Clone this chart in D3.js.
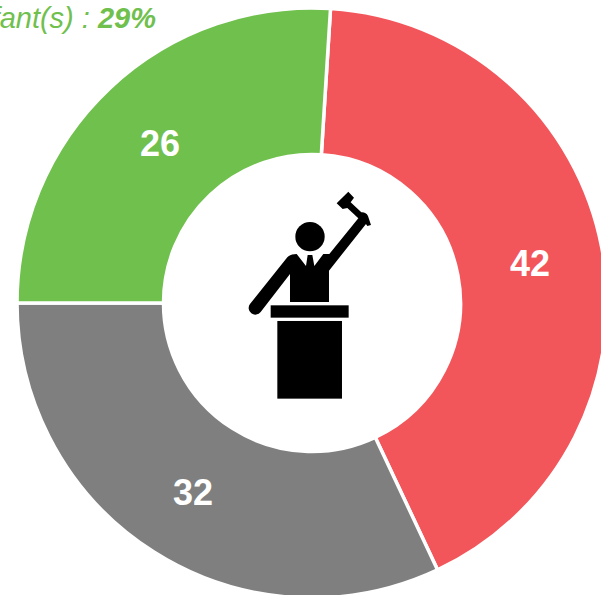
<!DOCTYPE html>
<html><head><meta charset="utf-8">
<style>html,body{margin:0;padding:0;background:#fff;overflow:hidden}svg{display:block}</style>
<script src="https://cdn.jsdelivr.net/npm/d3@7/dist/d3.min.js"></script></head>
<body><div id="c"></div>
<script>
const categories=["Contre","Abstention","Favorable"];
const values=[42,32,26];
const colors=["#f2565b","#7f7f7f","#70c04e"];
const noteLabel="Enfant(s) : ";
const notePct="29%";
const W=601,H=595,cx=312,cy=303,R=295,r0=148.5;
const svg=d3.select("#c").append("svg").attr("width",W).attr("height",H).style("font-family","'Liberation Sans',Arial,sans-serif");
const pie=d3.pie().sort(null).value(d=>d).startAngle(3.6*Math.PI/180).endAngle(363.6*Math.PI/180);
const arc=d3.arc().innerRadius(r0).outerRadius(R);
const g=svg.append("g").attr("transform",`translate(${cx},${cy})`);
const arcs=pie(values);
g.selectAll("path").data(arcs).join("path").attr("d",arc).attr("fill",(d,i)=>colors[i]).attr("stroke","#fff").attr("stroke-width",3.5);
const lab=d3.arc().innerRadius(222).outerRadius(222);
g.selectAll("text").data(arcs).join("text").attr("transform",d=>`translate(${lab.centroid(d)})`)
 .attr("text-anchor","middle").attr("dy","0.4em").attr("fill","#fff").attr("font-weight","bold").attr("font-size",36).text(d=>d.value);
const t=svg.append("text").attr("x",156).attr("y",28).attr("text-anchor","end").attr("fill","#70c04e").attr("font-style","italic").attr("font-size",29);
t.append("tspan").text(noteLabel);
t.append("tspan").attr("font-weight","bold").text(notePct);
const ic=svg.append("g").attr("transform","translate(230,180) scale(0.3333)").attr("fill","#000");
ic.append("circle").attr("cx",240).attr("cy",170).attr("r",44);
ic.append("rect").attr("x",122).attr("y",376).attr("width",234).attr("height",37);
ic.append("rect").attr("x",142).attr("y",423).attr("width",194).attr("height",233);
ic.append("path").attr("d","M180 366V282L92 396A18 18 0 0 1 60 372L172 232Q180 222 200 222L228 258L233 225H247L253 258L280 222H298L385 115L352 84L338 87L320 70L355 35L372 53L362 67L394 97Q408 96 414 108L423 135L412 138L408 132L297 272V366Z");
</script></body></html>
